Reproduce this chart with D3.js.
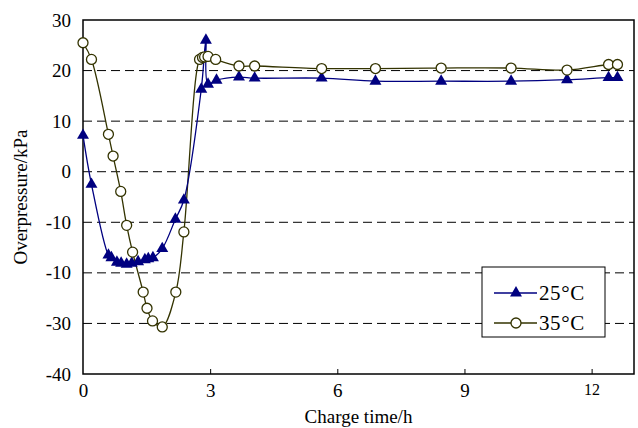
<!DOCTYPE html>
<html>
<head>
<meta charset="utf-8">
<script src="https://cdn.jsdelivr.net/npm/d3@7"></script>
<style>
  body { margin: 0; background: #fff; }
  svg text { font-family: "Liberation Serif", "Times New Roman", serif; fill: #000; }
</style>
</head>
<body>
<div id="chart-container"></div>
<script>
var time25 = [0, 0.2, 0.6, 0.67, 0.8, 0.9, 1.03, 1.15, 1.3, 1.46, 1.54, 1.65, 1.87, 2.18, 2.38, 2.79, 2.9, 2.95, 3.15, 3.68, 4.05, 5.63, 6.9, 8.45, 10.1, 11.42, 12.4, 12.61];
var press25 = [7.2, -2.5, -16.5, -17.0, -17.9, -18.1, -18.3, -18.1, -17.8, -17.4, -17.2, -17.0, -15.2, -9.4, -5.6, 16.3, 26.0, 17.3, 18.1, 18.7, 18.5, 18.5, 17.9, 17.9, 17.9, 18.2, 18.6, 18.6];

var time35 = [0, 0.2, 0.6, 0.71, 0.89, 1.03, 1.17, 1.42, 1.51, 1.64, 1.87, 2.19, 2.38, 2.75, 2.82, 2.87, 2.95, 3.13, 3.68, 4.05, 5.63, 6.9, 8.45, 10.1, 11.42, 12.4, 12.61];
var press35 = [25.5, 22.2, 7.4, 3.1, -3.9, -10.6, -15.9, -23.8, -27.0, -29.5, -30.7, -23.8, -11.9, 22.2, 22.6, 22.7, 22.8, 22.2, 20.9, 20.9, 20.4, 20.4, 20.5, 20.5, 20.1, 21.2, 21.2];

var xTicks = [0, 3, 6, 9, 12];
var yTicks = [30, 20, 10, 0, -10, -20, -30, -40];
var yTickLabels = ['30', '20', '10', '0', '-10', '-10', '-30', '-40'];
var gridValues = [20, 10, 0, -10, -20, -30];
var seriesNames = ['25\u00b0C', '35\u00b0C'];

var width = 638, height = 428;
var plotLeft = 83, plotRight = 634, plotTop = 20, plotBottom = 374;

var svg = d3.select('#chart-container')
            .append('svg')
            .attr('width', width)
            .attr('height', height);

var x = d3.scaleLinear().domain([0, 13]).range([plotLeft, plotRight]);
var y = d3.scaleLinear().domain([-40, 30]).range([plotBottom, plotTop]);

// dashed grid
svg.selectAll('line.grid')
   .data(gridValues)
   .enter()
   .append('line')
     .attr('x1', plotLeft)
     .attr('x2', plotRight)
     .attr('y1', function(d) { return y(d); })
     .attr('y2', function(d) { return y(d); })
     .attr('stroke', '#000')
     .attr('stroke-width', 1)
     .attr('stroke-dasharray', '9,5');

// x axis, ticks point inward
var xAxis = svg.append('g')
   .attr('transform', 'translate(0,' + plotBottom + ')')
   .call(d3.axisBottom(x).tickValues(xTicks).tickSizeInner(-5).tickSizeOuter(0).tickPadding(10));
xAxis.select('.domain').remove();
xAxis.selectAll('line').attr('stroke', '#000').attr('stroke-width', 1);
xAxis.selectAll('text')
     .style('font-size', function(d) { return d == 12 ? '16px' : '19px'; })
     .style('font-family', '"Liberation Serif", serif');
xAxis.selectAll('.tick').filter(function(d) { return d == 0; }).select('line').remove();

// y axis labels
var yAxis = svg.append('g')
   .attr('transform', 'translate(' + plotLeft + ',0)')
   .call(d3.axisLeft(y).tickValues(yTicks).tickSize(0).tickPadding(12)
           .tickFormat(function(d, i) { return yTickLabels[i]; }));
yAxis.select('.domain').remove();
yAxis.selectAll('text')
     .style('font-size', '19px')
     .style('font-family', '"Liberation Serif", serif');

// frame
svg.append('rect')
   .attr('x', plotLeft)
   .attr('y', plotTop)
   .attr('width', plotRight - plotLeft)
   .attr('height', plotBottom - plotTop)
   .attr('fill', 'none')
   .attr('stroke', '#000')
   .attr('stroke-width', 1.5);

svg.append('text')
   .attr('x', (plotLeft + plotRight) / 2)
   .attr('y', 423)
   .attr('text-anchor', 'middle')
   .style('font-size', '19px')
   .text('Charge time/h');

svg.append('text')
   .attr('transform', 'translate(27,' + (plotTop + plotBottom) / 2 + ') rotate(-90)')
   .attr('text-anchor', 'middle')
   .style('font-size', '19px')
   .text('Overpressure/kPa');

var line = d3.line()
             .x(function(d) { return x(d[0]); })
             .y(function(d) { return y(d[1]); })
             .curve(d3.curveCatmullRom.alpha(0.5));

var data25 = time25.map(function(t, i) { return [t, press25[i]]; });
var data35 = time35.map(function(t, i) { return [t, press35[i]]; });

var blue = '#000080', olive = '#333300';
var tri = d3.symbol().type(d3.symbolTriangle).size(62);

svg.append('path')
   .datum(data35)
   .attr('d', line)
   .attr('fill', 'none')
   .attr('stroke', olive)
   .attr('stroke-width', 1.3);

svg.append('path')
   .datum(data25)
   .attr('d', line)
   .attr('fill', 'none')
   .attr('stroke', blue)
   .attr('stroke-width', 1.3);

svg.selectAll('path.tri')
   .data(data25)
   .enter()
   .append('path')
     .attr('class', 'tri')
     .attr('d', tri)
     .attr('transform', function(d) { return 'translate(' + x(d[0]) + ',' + y(d[1]) + ')'; })
     .attr('fill', blue);

svg.selectAll('circle.pt')
   .data(data35)
   .enter()
   .append('circle')
     .attr('class', 'pt')
     .attr('cx', function(d) { return x(d[0]); })
     .attr('cy', function(d) { return y(d[1]); })
     .attr('r', 5)
     .attr('fill', '#fff')
     .attr('stroke', olive)
     .attr('stroke-width', 1.3);

// legend
var legend = svg.append('g');
legend.append('rect')
      .attr('x', 482)
      .attr('y', 267)
      .attr('width', 123)
      .attr('height', 70)
      .attr('fill', '#fff')
      .attr('stroke', '#000')
      .attr('stroke-width', 1);

var rows = legend.selectAll('g.row')
      .data(seriesNames)
      .enter()
      .append('g')
      .attr('transform', function(d, i) { return 'translate(0,' + (293 + i * 30) + ')'; });

rows.append('line')
    .attr('x1', 494)
    .attr('x2', 537)
    .attr('stroke', function(d, i) { return i ? olive : blue; })
    .attr('stroke-width', 1.3);

rows.filter(function(d, i) { return i == 0; })
    .append('path')
    .attr('d', tri)
    .attr('transform', 'translate(516,0)')
    .attr('fill', blue);

rows.filter(function(d, i) { return i == 1; })
    .append('circle')
    .attr('cx', 516)
    .attr('r', 5)
    .attr('fill', '#fff')
    .attr('stroke', olive)
    .attr('stroke-width', 1.3);

rows.append('text')
    .attr('x', 539)
    .attr('y', 7)
    .style('font-size', '21px')
    .style('letter-spacing', '0.6px')
    .text(function(d) { return d; });
</script>
</body>
</html>
